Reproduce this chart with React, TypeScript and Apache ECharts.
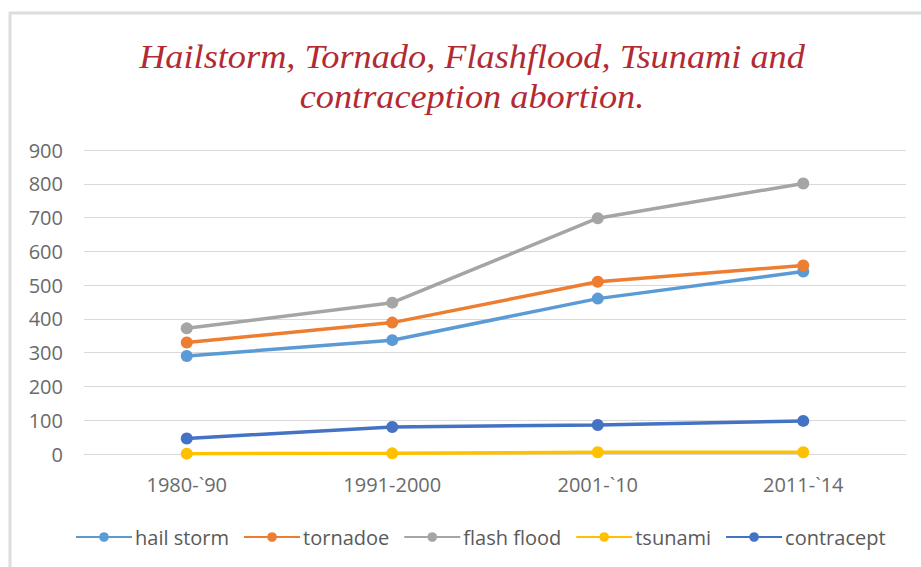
import React, { useEffect, useRef } from "react";
import * as echarts from "echarts";

const categories = ["1980-`90", "1991-2000", "2001-`10", "2011-`14"];
const hailStorm = [290, 337, 460, 540];
const tornadoe = [330, 389, 510, 558];
const flashFlood = [372, 448, 698, 801];
const tsunami = [1, 2, 5, 5];
const contracept = [46, 80, 86, 98];

const seriesNames = ["hail storm", "tornadoe", "flash flood", "tsunami", "contracept"];
const seriesColors = ["#5B9BD5", "#ED7D31", "#A5A5A5", "#FFC000", "#4472C4"];
const seriesData = [hailStorm, tornadoe, flashFlood, tsunami, contracept];
const yTicks = { min: 0, max: 900, interval: 100 };
const titleLines = ["Hailstorm, Tornado, Flashflood, Tsunami and", "contraception abortion."];

export default function App() {
  const ref = useRef<HTMLDivElement>(null);
  useEffect(() => {
    if (!ref.current) return;
    const chart = echarts.init(ref.current, null, { renderer: "svg" });
    const labelFont = "'Open Sans', Lato, 'Liberation Sans', sans-serif";
    const titleStyle = {
      fill: "#B22A33",
      font: "italic 33px 'Liberation Serif', 'DejaVu Serif', serif",
      textAlign: "center",
      textVerticalAlign: "middle",
    };
    chart.setOption({
      animation: false,
      backgroundColor: "#ffffff",
      graphic: [
        { type: "rect", shape: { x: 10, y: 13, width: 930, height: 600 }, style: { fill: "none", stroke: "#dddddd", lineWidth: 3 } },
        { type: "text", x: 472, y: 57, scaleX: 1.1, style: { ...titleStyle, text: titleLines[0] } },
        { type: "text", x: 472, y: 97, scaleX: 1.1, style: { ...titleStyle, text: titleLines[1] } },
      ],
      grid: { left: 84, right: 15, top: 150, bottom: 113, containLabel: false },
      xAxis: {
        type: "category",
        data: categories,
        boundaryGap: true,
        axisLine: { show: true, lineStyle: { color: "#d9d9d9", width: 1 } },
        axisTick: { show: false },
        axisLabel: { color: "#6a6a6a", fontSize: 20, fontFamily: labelFont, margin: 20 },
      },
      yAxis: {
        type: "value",
        min: yTicks.min,
        max: yTicks.max,
        interval: yTicks.interval,
        axisLine: { show: false },
        axisTick: { show: false },
        splitLine: { lineStyle: { color: "#d9d9d9", width: 1 } },
        axisLabel: { color: "#6a6a6a", fontSize: 20, fontFamily: labelFont, margin: 21 },
      },
      legend: {
        bottom: 15,
        left: 70,
        itemWidth: 56,
        itemHeight: 12,
        itemGap: 14,
        textStyle: { color: "#5a5a5a", fontSize: 20, fontFamily: labelFont, padding: [0, 0, 0, -2] },
        data: seriesNames,
      },
      series: seriesNames.map((name, i) => ({
        name,
        type: "line",
        data: seriesData[i],
        color: seriesColors[i],
        symbol: "circle",
        symbolSize: 12,
        lineStyle: { width: 3.5, color: seriesColors[i] },
        itemStyle: { color: seriesColors[i] },
      })),
    });
    return () => chart.dispose();
  }, []);
  return <div ref={ref} style={{ position: "fixed", left: 0, top: 0, width: 921, height: 567, overflow: "hidden" }} />;
}
